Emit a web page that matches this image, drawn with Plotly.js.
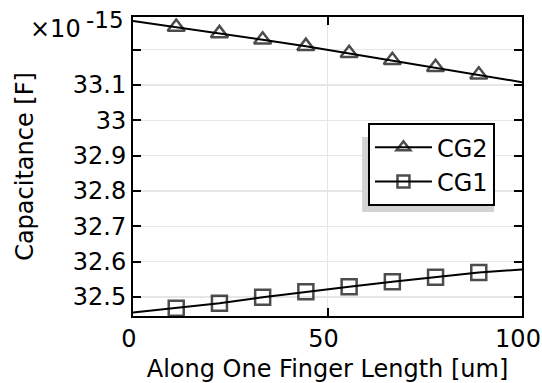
<!DOCTYPE html>
<html>
<head>
<meta charset="utf-8">
<script src="https://cdn.plot.ly/plotly-3.0.1.min.js"></script>
<style>
  html, body { margin: 0; padding: 0; background: #fff; }
  #chart { width: 542px; height: 383px; }
</style>
</head>
<body>
<div id="chart"></div>
<script>
// Position along one finger [um]
const positions = [0, 11.11, 22.22, 33.33, 44.44, 55.56, 66.67, 77.78, 88.89, 100];

// Capacitance values in units of 1e-15 F
const cg2Values = [33.281, 33.264, 33.246, 33.228, 33.210, 33.190, 33.170, 33.150, 33.129, 33.108];
const cg1Values = [32.456, 32.468, 32.482, 32.499, 32.515, 32.529, 32.543, 32.556, 32.569, 32.578];

// labelled y ticks; 33.2 only gets a tick and grid line
const yTickVals = [32.5, 32.6, 32.7, 32.8, 32.9, 33.0, 33.1];
const yTickText = ['32.5', '32.6', '32.7', '32.8', '32.9', '33', '33.1'];
const yUnlabelledTicks = [33.2];
const xTickVals = [0, 50, 100];

// markers only on interior points, line runs end to end
const markerSizes = positions.map((_, i) => (i === 0 || i === positions.length - 1) ? 0 : 15);

const font = 'DejaVu Sans, sans-serif';
const fs = 24;

const traces = [
  {
    name: 'CG2',
    x: positions,
    y: cg2Values,
    mode: 'lines+markers',
    line: { color: '#000', width: 2 },
    marker: { symbol: 'triangle-up-open', size: markerSizes, color: '#000', line: { width: 2.5, color: '#000' } }
  },
  {
    name: 'CG1',
    x: positions,
    y: cg1Values,
    mode: 'lines+markers',
    line: { color: '#000', width: 2 },
    marker: { symbol: 'square-open', size: markerSizes, color: '#000', line: { width: 2.5, color: '#000' } }
  }
];

const axisCommon = {
  showline: true,
  linecolor: '#000',
  linewidth: 2,
  mirror: 'allticks',
  ticks: 'inside',
  ticklen: 8,
  tickwidth: 2,
  tickcolor: '#000',
  showgrid: true,
  gridcolor: '#e6e6e6',
  gridwidth: 1.5,
  zeroline: false,
  tickfont: { family: font, size: fs, color: '#000' }
};

const layout = {
  width: 542,
  height: 383,
  paper_bgcolor: '#fff',
  plot_bgcolor: '#fff',
  margin: { l: 133, r: 20, t: 17, b: 67 },
  showlegend: true,
  legend: {
    x: 0.604, y: 0.645, xanchor: 'left', yanchor: 'top',
    bgcolor: '#fff',
    bordercolor: '#000',
    borderwidth: 2,
    itemwidth: 57,
    font: { family: font, size: fs, color: '#000' },
    tracegroupgap: 0
  },
  xaxis: Object.assign({}, axisCommon, {
    range: [0, 100],
    tickmode: 'array',
    tickvals: xTickVals,
    ticklabelshift: -4,
    title: { text: 'Along One Finger Length [um]', font: { family: font, size: fs, color: '#000' }, standoff: 11 }
  }),
  yaxis: Object.assign({}, axisCommon, {
    range: [32.446, 33.2925],
    tickmode: 'array',
    tickvals: yTickVals,
    ticktext: yTickText,
    minor: {
      tickmode: 'array', tickvals: yUnlabelledTicks,
      ticks: 'inside', ticklen: 8, tickwidth: 2, tickcolor: '#000',
      showgrid: true, gridcolor: '#e6e6e6', gridwidth: 1.5
    },
    title: { text: 'Capacitance [F]', font: { family: font, size: fs, color: '#000' }, standoff: 32 }
  }),
  shapes: [
    // drop shadow behind the legend box
    { type: 'rect', xref: 'paper', yref: 'paper', x0: 0.589, x1: 0.928, y0: 0.348, y1: 0.599,
      fillcolor: '#d3d3d3', line: { width: 0 }, layer: 'above' }
  ],
  annotations: [
    { xref: 'paper', yref: 'paper', x: -0.129, y: 0.96, xanchor: 'right', yanchor: 'middle',
      text: '×10', showarrow: false, font: { family: font, size: 24, color: '#000' } },
    { xref: 'paper', yref: 'paper', x: -0.126, y: 0.99, xanchor: 'left', yanchor: 'middle',
      text: '-15', showarrow: false, font: { family: font, size: 23, color: '#000' } }
  ]
};

Plotly.newPlot('chart', traces, layout, { displayModeBar: false, staticPlot: true });
</script>
</body>
</html>
